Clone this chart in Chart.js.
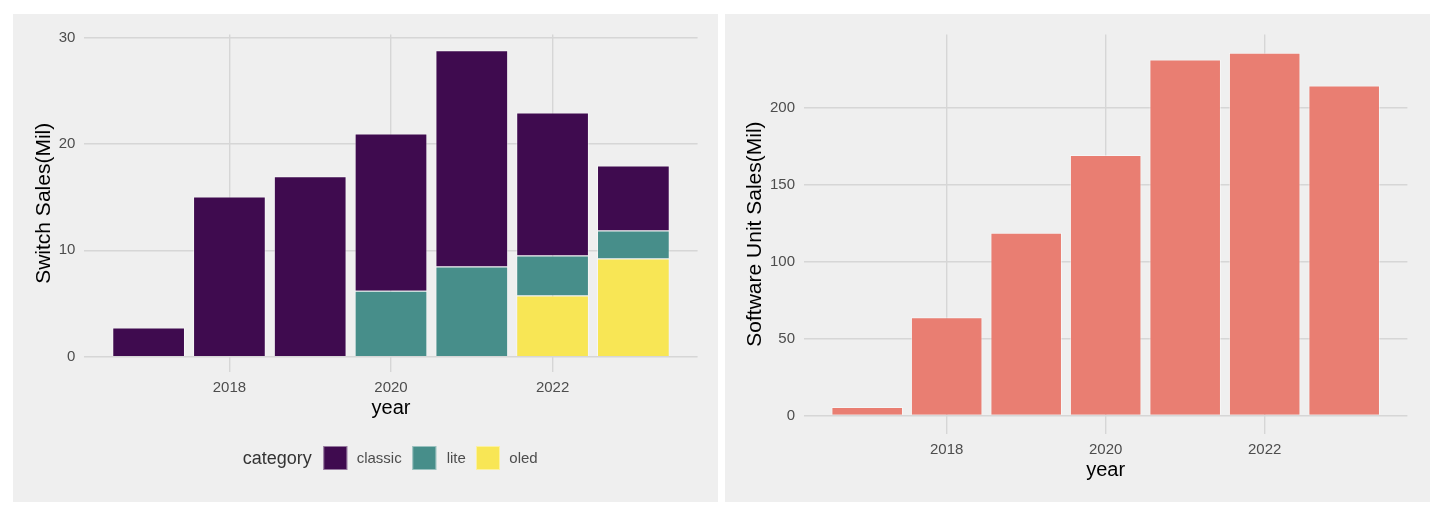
<!DOCTYPE html>
<html>
<head>
<meta charset="utf-8">
<script src="https://cdn.jsdelivr.net/npm/chart.js@4"></script>
<style>
  body { margin: 0; background: #fff; }
  .panel { position: absolute; background: #efefef; width: 705px; height: 488px; top: 14px; }
  #left { left: 13px; }
  #right { left: 725px; }
</style>
</head>
<body>
<div class="panel" id="left"><canvas id="myChart" width="705" height="488"></canvas></div>
<div class="panel" id="right"><canvas id="myChart2" width="705" height="488"></canvas></div>
<script>
const years = [2017, 2018, 2019, 2020, 2021, 2022, 2023];
const classicSales = [2.74, 15.05, 16.95, 14.78, 20.33, 13.45, 6.12];
const liteSales = [null, null, null, 6.2, 8.47, 3.76, 2.63];
const oledSales = [null, null, null, null, null, 5.74, 9.22];
const softwareSales = [5.5, 63.7, 118.7, 169.1, 231.2, 235.6, 214.2];
const yearTicks = [2018, 2020, 2022];
const switchTicks = [0, 10, 20, 30];
const softwareTicks = [0, 50, 100, 150, 200];

const font = "'Liberation Sans', Arial, sans-serif";
Chart.defaults.font.family = font;

const pts = (vals) => years.map((y, i) => ({ x: y, y: vals[i] }));
const setTicks = (list) => (scale) => { scale.ticks = list.map(v => ({ value: v })); };

// ggplot style continuous range with 5% expansion
const xMin = 2016.55 - 0.345, xMax = 2023.45 + 0.345;

function xAxis(h) {
    return {
        type: 'linear', offset: false, min: xMin, max: xMax,
        afterBuildTicks: setTicks(yearTicks),
        afterFit: (s) => { s.height = h; },
        grid: { color: '#d6d6d6', lineWidth: 1.4, drawTicks: false, offset: false },
        border: { display: false },
        ticks: { color: '#4d4d4d', font: { size: 15 }, padding: 7, callback: (v) => String(v) },
        title: { display: true, text: 'year', color: '#000', font: { size: 20 }, padding: 0 }
    };
}

function yAxis(w, ticks, min, max, label, stacked, pad) {
    return {
        stacked: stacked, min: min, max: max,
        afterBuildTicks: setTicks(ticks),
        afterFit: (s) => { s.width = w; },
        grid: { color: '#d6d6d6', lineWidth: 1.4, drawTicks: false },
        border: { display: false },
        ticks: { color: '#4d4d4d', font: { size: 15 }, padding: 9 },
        title: { display: true, text: label, color: '#000', font: { size: 21 }, padding: { top: pad } }
    };
}

const legendItems = [
    { text: 'classic', color: '#3f0b4f', box: 310.3, label: 343.7 },
    { text: 'lite', color: '#478e8a', box: 399.3, label: 433.7 },
    { text: 'oled', color: '#f8e655', box: 463, label: 496.3 }
];

const legendPlugin = {
    id: 'ggLegend',
    afterDraw(chart) {
        const c = chart.ctx;
        c.save();
        c.textBaseline = 'middle';
        c.fillStyle = '#333';
        c.font = '18px ' + font;
        c.fillText('category', 229.7, 445);
        c.font = '15px ' + font;
        legendItems.forEach(it => {
            c.fillStyle = it.color;
            c.fillRect(it.box, 432, 24, 24);
            c.strokeStyle = 'rgba(255,255,255,0.45)';
            c.lineWidth = 1;
            c.strokeRect(it.box + 0.5, 432.5, 23, 23);
            c.fillStyle = '#4d4d4d';
            c.fillText(it.text, it.label, 445);
        });
        c.restore();
    }
};

const barStyle = { borderWidth: 1, borderColor: 'rgba(255,255,255,0.45)', barPercentage: 0.9, categoryPercentage: 1 };

new Chart(document.querySelector('#myChart'), {
    type: 'bar',
    data: {
        datasets: [
            { label: 'oled', data: pts(oledSales), backgroundColor: '#f8e655', ...barStyle },
            { label: 'lite', data: pts(liteSales), backgroundColor: '#478e8a', ...barStyle },
            { label: 'classic', data: pts(classicSales), backgroundColor: '#3f0b4f', ...barStyle }
        ]
    },
    options: {
        responsive: false, animation: false, devicePixelRatio: 1,
        layout: { padding: { left: 0, top: 20.6, right: 20.4, bottom: 82 } },
        plugins: { legend: { display: false }, tooltip: { enabled: false } },
        scales: {
            x: { ...xAxis(48), stacked: true },
            y: yAxis(71.4, switchTicks, -1.44, 30.27, 'Switch Sales(Mil)', true, 18.2)
        }
    },
    plugins: [legendPlugin]
});

new Chart(document.querySelector('#myChart2'), {
    type: 'bar',
    data: {
        datasets: [
            { label: 'software', data: pts(softwareSales), backgroundColor: '#e97e72', ...barStyle }
        ]
    },
    options: {
        responsive: false, animation: false, devicePixelRatio: 1,
        layout: { padding: { left: 0, top: 20.5, right: 22.6, bottom: 20 } },
        plugins: { legend: { display: false }, tooltip: { enabled: false } },
        scales: {
            x: xAxis(48.4),
            y: yAxis(79, softwareTicks, -11.78, 247.4, 'Software Unit Sales(Mil)', false, 17.5)
        }
    }
});
</script>
</body>
</html>
